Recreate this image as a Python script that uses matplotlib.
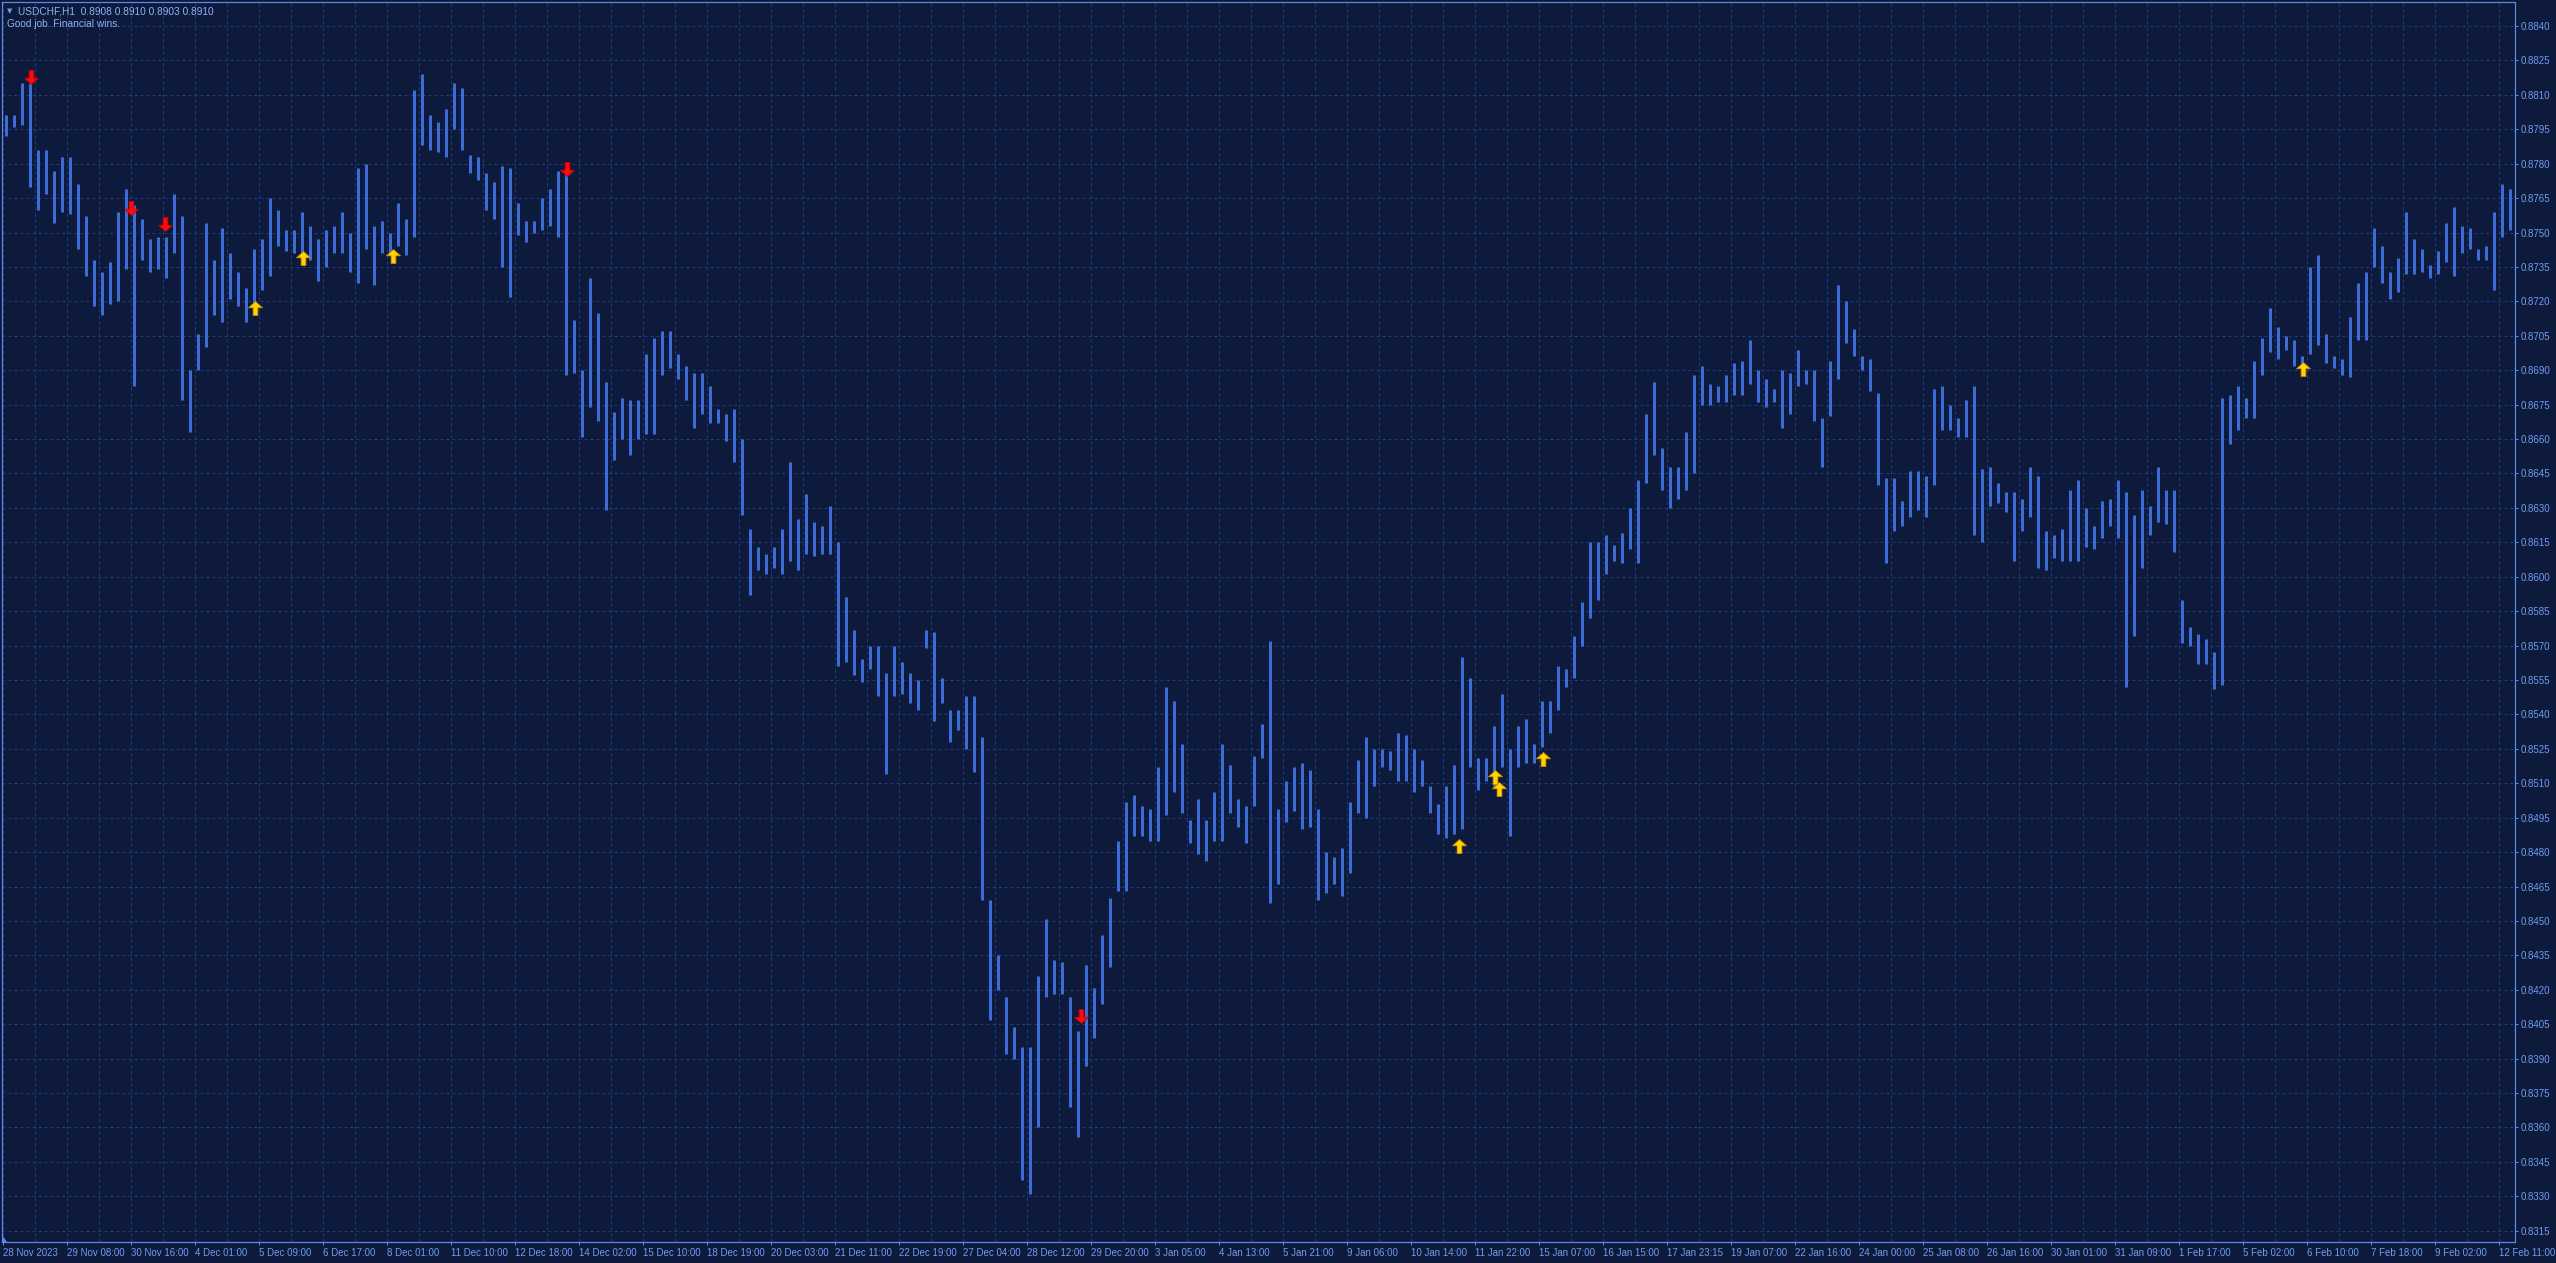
import matplotlib
matplotlib.use("Agg")
import matplotlib.pyplot as plt
from matplotlib.path import Path
from matplotlib.patches import Polygon

# ---------------- data (USDCHF, H1, aggregated in 4-hour blocks, prices in pips) ----------------
hi_pips = [
    8801, 8801, 8815, 8815, 8786, 8786, 8777, 8783, 8783, 8771,
    8757, 8738, 8733, 8737, 8759, 8769, 8762, 8756, 8747, 8748,
    8748, 8767, 8757, 8690, 8706, 8754, 8738, 8752, 8741, 8733,
    8726, 8743, 8747, 8765, 8760, 8751, 8751, 8759, 8753, 8747,
    8751, 8753, 8759, 8750, 8778, 8780, 8753, 8755, 8750, 8763,
    8756, 8812, 8819, 8801, 8798, 8804, 8815, 8813, 8784, 8783,
    8776, 8772, 8779, 8778, 8763, 8755, 8755, 8765, 8769, 8777,
    8776, 8712, 8690, 8730, 8715, 8685, 8672, 8678, 8677, 8677,
    8697, 8704, 8707, 8707, 8697, 8692, 8689, 8689, 8683, 8673,
    8671, 8673, 8660, 8621, 8613, 8610, 8613, 8621, 8650, 8625,
    8636, 8624, 8622, 8631, 8615, 8591, 8577, 8564, 8570, 8570,
    8558, 8570, 8563, 8558, 8555, 8577, 8576, 8556, 8542, 8542,
    8548, 8548, 8530, 8459, 8435, 8417, 8404, 8395, 8395, 8426,
    8451, 8433, 8432, 8417, 8402, 8431, 8421, 8444, 8460, 8485,
    8502, 8505, 8500, 8499, 8517, 8552, 8546, 8527, 8494, 8503,
    8494, 8506, 8527, 8518, 8503, 8500, 8522, 8536, 8572, 8499,
    8511, 8517, 8519, 8516, 8499, 8480, 8478, 8482, 8502, 8520,
    8530, 8525, 8525, 8524, 8532, 8531, 8525, 8520, 8509, 8501,
    8509, 8518, 8565, 8556, 8521, 8521, 8535, 8549, 8525, 8535,
    8538, 8527, 8546, 8546, 8561, 8560, 8574, 8589, 8615, 8615,
    8618, 8614, 8619, 8630, 8642, 8671, 8685, 8656, 8648, 8648,
    8663, 8688, 8692, 8684, 8683, 8688, 8693, 8694, 8703, 8690,
    8686, 8682, 8690, 8689, 8699, 8690, 8690, 8669, 8694, 8727,
    8720, 8708, 8696, 8695, 8680, 8643, 8643, 8633, 8646, 8646,
    8644, 8682, 8683, 8675, 8669, 8677, 8683, 8647, 8648, 8641,
    8637, 8637, 8634, 8648, 8644, 8620, 8618, 8621, 8638, 8642,
    8630, 8622, 8633, 8634, 8642, 8637, 8627, 8638, 8631, 8648,
    8638, 8638, 8590, 8578, 8575, 8573, 8567, 8678, 8679, 8683,
    8678, 8694, 8704, 8717, 8709, 8705, 8703, 8696, 8735, 8740,
    8706, 8696, 8695, 8713, 8728, 8733, 8752, 8744, 8733, 8739,
    8759, 8747, 8743, 8736, 8742, 8754, 8761, 8753, 8752, 8743,
    8744, 8759, 8771, 8769,
]
lo_pips = [
    8792, 8796, 8797, 8770, 8760, 8767, 8754, 8759, 8758, 8743,
    8731, 8718, 8714, 8719, 8720, 8734, 8683, 8738, 8733, 8734,
    8730, 8741, 8677, 8663, 8690, 8700, 8714, 8711, 8721, 8718,
    8711, 8718, 8725, 8731, 8744, 8742, 8741, 8738, 8738, 8729,
    8735, 8741, 8741, 8733, 8728, 8743, 8727, 8741, 8741, 8744,
    8740, 8748, 8788, 8786, 8785, 8783, 8795, 8786, 8776, 8773,
    8760, 8756, 8735, 8722, 8749, 8746, 8750, 8751, 8753, 8748,
    8688, 8689, 8661, 8674, 8668, 8629, 8651, 8660, 8653, 8660,
    8662, 8662, 8688, 8691, 8686, 8677, 8665, 8671, 8667, 8667,
    8659, 8650, 8627, 8592, 8603, 8601, 8604, 8601, 8607, 8603,
    8610, 8609, 8610, 8610, 8561, 8563, 8557, 8554, 8560, 8548,
    8514, 8548, 8549, 8545, 8542, 8569, 8537, 8545, 8528, 8533,
    8525, 8515, 8459, 8407, 8420, 8392, 8390, 8337, 8331, 8360,
    8417, 8418, 8418, 8369, 8356, 8387, 8399, 8414, 8430, 8463,
    8463, 8487, 8487, 8485, 8485, 8496, 8506, 8497, 8484, 8479,
    8476, 8485, 8485, 8497, 8491, 8484, 8500, 8521, 8458, 8466,
    8493, 8498, 8490, 8491, 8459, 8462, 8466, 8461, 8471, 8497,
    8495, 8509, 8517, 8516, 8511, 8511, 8506, 8509, 8497, 8488,
    8486, 8488, 8490, 8517, 8507, 8511, 8509, 8517, 8487, 8517,
    8519, 8519, 8526, 8532, 8542, 8552, 8556, 8570, 8582, 8590,
    8601, 8607, 8606, 8612, 8606, 8641, 8653, 8638, 8630, 8634,
    8638, 8645, 8675, 8675, 8676, 8676, 8679, 8679, 8684, 8676,
    8674, 8676, 8665, 8671, 8683, 8684, 8668, 8648, 8670, 8686,
    8702, 8696, 8690, 8681, 8640, 8606, 8620, 8622, 8626, 8629,
    8626, 8640, 8664, 8664, 8661, 8661, 8618, 8615, 8631, 8632,
    8628, 8607, 8620, 8626, 8604, 8603, 8608, 8607, 8607, 8607,
    8613, 8612, 8617, 8622, 8617, 8552, 8574, 8604, 8618, 8624,
    8623, 8611, 8571, 8570, 8562, 8562, 8551, 8553, 8658, 8664,
    8669, 8669, 8688, 8698, 8695, 8699, 8692, 8692, 8697, 8701,
    8693, 8691, 8688, 8687, 8703, 8703, 8735, 8728, 8721, 8724,
    8732, 8732, 8733, 8730, 8732, 8737, 8731, 8741, 8743, 8738,
    8738, 8725, 8748, 8751,
]
hours_per_block = 4

x_labels = [
    "28 Nov 2023", "29 Nov 08:00", "30 Nov 16:00", "4 Dec 01:00", "5 Dec 09:00",
    "6 Dec 17:00", "8 Dec 01:00", "11 Dec 10:00", "12 Dec 18:00", "14 Dec 02:00",
    "15 Dec 10:00", "18 Dec 19:00", "20 Dec 03:00", "21 Dec 11:00", "22 Dec 19:00",
    "27 Dec 04:00", "28 Dec 12:00", "29 Dec 20:00", "3 Jan 05:00", "4 Jan 13:00",
    "5 Jan 21:00", "9 Jan 06:00", "10 Jan 14:00", "11 Jan 22:00", "15 Jan 07:00",
    "16 Jan 15:00", "17 Jan 23:15", "19 Jan 07:00", "22 Jan 16:00", "24 Jan 00:00",
    "25 Jan 08:00", "26 Jan 16:00", "30 Jan 01:00", "31 Jan 09:00", "1 Feb 17:00",
    "5 Feb 02:00", "6 Feb 10:00", "7 Feb 18:00", "9 Feb 02:00", "12 Feb 11:00",
]
label_step_hours = 32

y_tick_values = [
    0.8315, 0.8330, 0.8345, 0.8360, 0.8375, 0.8390, 0.8405, 0.8420, 0.8435,
    0.8450, 0.8465, 0.8480, 0.8495, 0.8510, 0.8525, 0.8540, 0.8555, 0.8570,
    0.8585, 0.8600, 0.8615, 0.8630, 0.8645, 0.8660, 0.8675, 0.8690, 0.8705,
    0.8720, 0.8735, 0.8750, 0.8765, 0.8780, 0.8795, 0.8810, 0.8825, 0.8840,
]

sell_hours = [14, 64, 81, 282, 539]
sell_prices = [0.88176, 0.87608, 0.87537, 0.87775, 0.84086]
buy_hours = [126, 150, 195, 728, 746, 748, 770, 1150]
buy_prices = [0.87169, 0.87388, 0.87396, 0.84827, 0.85128, 0.85073, 0.85207, 0.86905]

header = "USDCHF,H1  0.8908 0.8910 0.8903 0.8910"
comment = "Good job. Financial wins."

# ---------------- style ----------------
BG = "#0e1a3b"
GRID = "#1f3b7c"
BAR = "#3e6cd6"
AXIS = "#5b8ae8"
TXT = "#6f9cf0"
FONT = "Liberation Sans"

W, H = 2556, 1263
DPI = 100
px = 72.0 / DPI  # points per pixel
plt.rcParams["lines.scale_dashes"] = False

fig = plt.figure(figsize=(W / DPI, H / DPI), dpi=DPI)
fig.patch.set_facecolor(BG)
ax = fig.add_axes([2 / W, 21 / H, 2513 / W, 1240 / H])
ax.set_facecolor(BG)

ax.set_xlim(-0.7, 1255.8)
ax.set_ylim(0.83101, 0.885046)

# grid
n_lab = len(x_labels)
major_x = [i * label_step_hours for i in range(n_lab)]
minor_x = [i * label_step_hours + label_step_hours // 2 for i in range(n_lab)]
for xv in major_x + minor_x:
    ax.axvline(xv, color=GRID, lw=1 * px, ls=(0, (3 * px, 3 * px)), zorder=1)
for yv in y_tick_values:
    ax.axhline(yv, color=GRID, lw=1 * px, ls=(0, (3 * px, 3 * px)), zorder=1)

# bars (high-low lines)
centers = [k * hours_per_block + 1.5 for k in range(len(hi_pips))]
ax.vlines(centers, [v / 10000 for v in lo_pips], [v / 10000 for v in hi_pips],
          colors=BAR, linewidth=3.0 * px, zorder=3)

# arrows
up = Path([(-0.5, 0.05), (0.0, 0.5), (0.5, 0.05), (0.17, 0.05), (0.17, -0.5),
           (-0.17, -0.5), (-0.17, 0.05), (-0.5, 0.05)],
          [Path.MOVETO] + [Path.LINETO] * 6 + [Path.CLOSEPOLY])
down = Path([(x, -y) for x, y in up.vertices], up.codes)
ax.plot(buy_hours, buy_prices, ls="none", marker=up, markersize=14 * px,
        markerfacecolor="#ffd400", markeredgecolor="#d08a00", markeredgewidth=0.8 * px, zorder=5)
ax.plot(sell_hours, sell_prices, ls="none", marker=down, markersize=14 * px,
        markerfacecolor="#ff0a0a", markeredgecolor="#c80000", markeredgewidth=0.8 * px, zorder=5)

# axes / ticks
for s in ax.spines.values():
    s.set_color(AXIS)
    s.set_linewidth(1.2 * px)
ax.yaxis.tick_right()
ax.set_yticks(y_tick_values)
ax.set_yticklabels([f"{v:.4f}" for v in y_tick_values])
ax.set_xticks(major_x)
ax.set_xticklabels(x_labels)
ax.tick_params(axis="both", colors=AXIS, length=3 * px, width=1 * px, labelsize=7,
               labelcolor=TXT)
ax.tick_params(axis="y", pad=3 * px)
ax.tick_params(axis="x", pad=3 * px)
for t in ax.get_xticklabels():
    t.set_ha("left")
    t.set_fontfamily(FONT)
for t in ax.get_yticklabels():
    t.set_fontfamily(FONT)

# header texts
fig.text(10 / W, 1 - 11 / H, "\u25BC", color=TXT, fontsize=5, ha="center", va="center",
         family="DejaVu Sans")
fig.text(18 / W, 1 - 11 / H, header, color="#8fb2f0", fontsize=7.3, ha="left", va="center",
         family=FONT)
fig.text(7 / W, 1 - 24 / H, comment, color="#8fb2f0", fontsize=7.3, ha="left", va="center",
         family=FONT)

# small shift marker at lower-left corner
fig.patches.append(Polygon([(2 / W, 21 / H), (7 / W, 21 / H), (2 / W, 28 / H)], closed=True,
                           transform=fig.transFigure, facecolor=AXIS, edgecolor="none"))

fig.savefig("out.png", dpi=DPI, facecolor=BG)
